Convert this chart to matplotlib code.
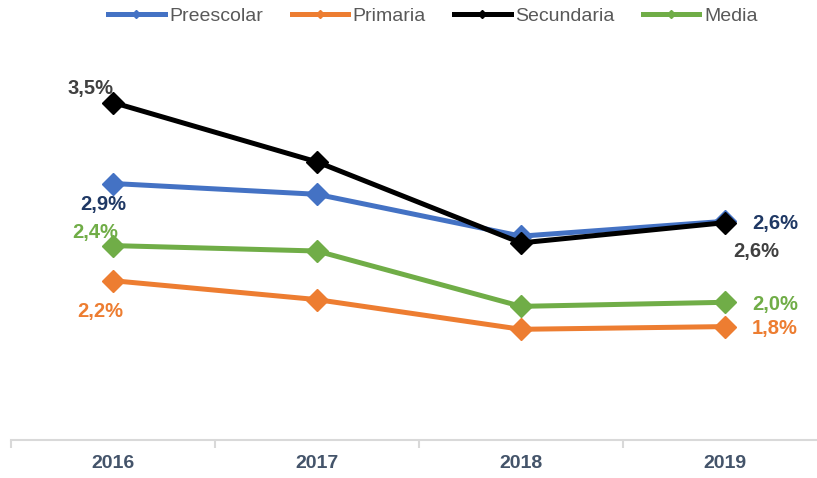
import matplotlib
matplotlib.use("Agg")
import matplotlib.pyplot as plt
from matplotlib.lines import Line2D

years = ["2016", "2017", "2018", "2019"]
preescolar = [2.90, 2.82, 2.51, 2.62]
primaria = [2.18, 2.04, 1.82, 1.84]
secundaria = [3.50, 3.06, 2.46, 2.61]
media = [2.44, 2.40, 1.99, 2.02]

series = [
    ("Preescolar", preescolar, "#4472C4", "#1F3864"),
    ("Primaria", primaria, "#ED7D31", "#ED7D31"),
    ("Secundaria", secundaria, "#000000", "#404040"),
    ("Media", media, "#70AD47", "#70AD47"),
]
# label offsets in pixels (first point, last point)
offsets = {
    "Preescolar": ((-10, -21), (50, -2)),
    "Primaria": ((-13, -31), (50, -2)),
    "Secundaria": ((-23, 14), (31, -29)),
    "Media": ((-18, 13), (50, -2)),
}

plt.rcParams["font.family"] = ["Liberation Sans", "DejaVu Sans"]
fig = plt.figure(figsize=(8.17, 4.78), dpi=100)
W, H = 817, 478
ax = fig.add_axes([11 / W, 1 - 440 / H, 816 / W, 405 / H])
x = list(range(len(years)))

for name, vals, col, lcol in series:
    ax.plot(x, vals, color=col, lw=3.6, marker="D", ms=11, zorder=3,
            solid_joinstyle="miter")
for name, vals, col, lcol in series:
    (o1, o2) = offsets[name]
    ax.annotate(f"{vals[0]:.1f}%".replace(".", ","), (x[0], vals[0]), xytext=o1,
                textcoords="offset pixels", ha="center", va="center",
                fontsize=14.5, fontweight="bold", color=lcol)
    ax.annotate(f"{vals[-1]:.1f}%".replace(".", ","), (x[-1], vals[-1]), xytext=o2,
                textcoords="offset pixels", ha="center", va="center",
                fontsize=14.5, fontweight="bold", color=lcol)

ax.set_xlim(-0.5, 3.5)
ax.set_ylim(1.0, 4.0)
ax.set_yticks([])
for s in ["top", "right", "left"]:
    ax.spines[s].set_visible(False)
ax.spines["bottom"].set_color("#D9D9D9")
ax.spines["bottom"].set_linewidth(1.5)
ax.set_xticks(x)
ax.set_xticklabels(years, fontsize=14, fontweight="bold", color="#44546A")
ax.tick_params(axis="x", which="major", length=0, pad=11)
ax.set_xticks([-0.5, 0.5, 1.5, 2.5, 3.5], minor=True)
ax.tick_params(axis="x", which="minor", length=6, width=1.5, color="#D9D9D9")

handles = [Line2D([], [], color=c, lw=3.6, marker="D", ms=4.5) for _, _, c, _ in series]
fig.legend(handles, [s[0] for s in series], loc="center", bbox_to_anchor=(433 / W, 1 - 16 / H),
           ncol=4, frameon=False, fontsize=14, handlelength=2.9, handletextpad=0.25,
           columnspacing=1.45, labelcolor="#595959")

fig.savefig("out.png", dpi=100)
